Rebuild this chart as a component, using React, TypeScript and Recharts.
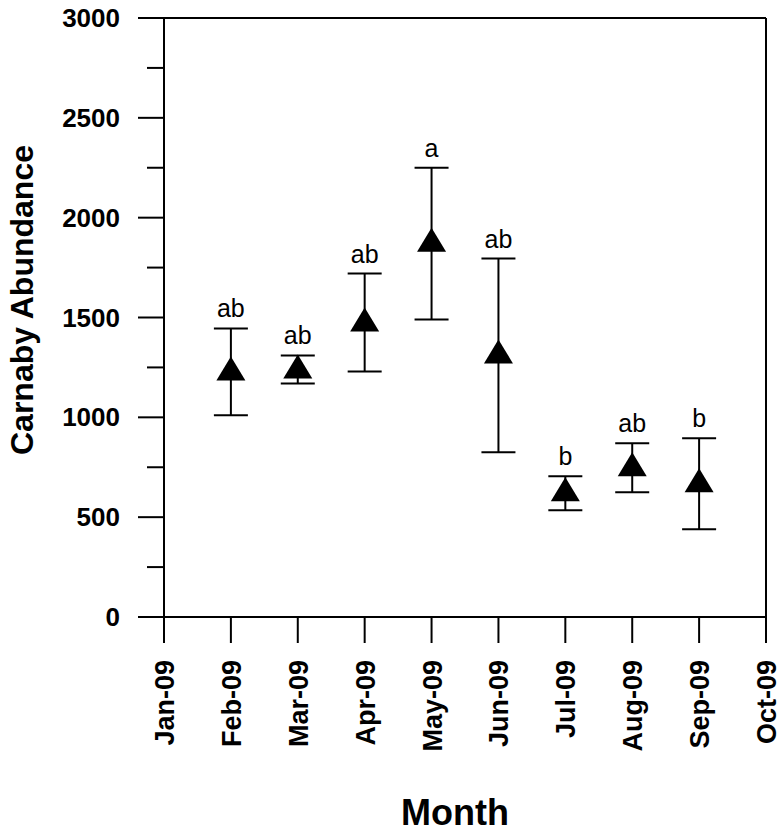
// Carnaby abundance by month: mean (triangle) with error bars and
// significance letters above each bar.
import {
  ComposedChart,
  ErrorBar,
  ReferenceLine,
  Scatter,
  XAxis,
  YAxis,
} from "recharts";

const months = ["Jan-09", "Feb-09", "Mar-09", "Apr-09", "May-09", "Jun-09", "Jul-09", "Aug-09", "Sep-09", "Oct-09"];
const sampledMonth = [1, 2, 3, 4, 5, 6, 7, 8];
const means = [1245, 1255, 1490, 1890, 1330, 640, 765, 685];
const lower = [1010, 1170, 1230, 1490, 825, 535, 625, 440];
const upper = [1445, 1310, 1720, 2250, 1795, 705, 870, 895];
const letters = ["ab", "ab", "ab", "a", "ab", "b", "ab", "b"];
const yTicks = [0, 250, 500, 750, 1000, 1250, 1500, 1750, 2000, 2250, 2500, 2750, 3000];
const xTicks = [0, 1, 2, 3, 4, 5, 6, 7, 8, 9];

const FONT = "'Liberation Sans', Arial, sans-serif";

const data = sampledMonth.map((m, i) => ({
  x: m,
  mean: means[i],
  hi: upper[i],
  err: [means[i] - lower[i], upper[i] - means[i]],
  letter: letters[i],
}));

function YTick({ x, y, payload }: any) {
  const major = payload.value % 500 === 0;
  return (
    <g>
      <line x1={x - (major ? 26 : 17)} x2={x} y1={y} y2={y} stroke="#000" strokeWidth={2} />
      {major && (
        <text x={x - 44} y={y + 9} textAnchor="end" fontFamily={FONT} fontWeight="bold" fontSize={26} fill="#000">
          {payload.value}
        </text>
      )}
    </g>
  );
}

function XTick({ x, y, payload }: any) {
  return (
    <g>
      <line x1={x} x2={x} y1={y} y2={y + 26} stroke="#000" strokeWidth={2} />
      <text
        x={x + 10}
        y={660}
        transform={`rotate(-90, ${x + 10}, 660)`}
        textAnchor="end"
        fontFamily={FONT}
        fontWeight="bold"
        fontSize={27}
        fill="#000"
      >
        {months[payload.value]}
      </text>
    </g>
  );
}

function Triangle({ cx, cy }: any) {
  return <polygon points={`${cx},${cy - 12} ${cx - 14.5},${cy + 12} ${cx + 14.5},${cy + 12}`} fill="#000" />;
}

function Letter({ cx, cy, payload }: any) {
  return (
    <text x={cx} y={cy - 11} textAnchor="middle" fontFamily={FONT} fontSize={25} fill="#000">
      {payload.letter}
    </text>
  );
}

export default function App() {
  return (
    <div style={{ position: "absolute", left: 0, top: 0, background: "#fff" }}>
      <ComposedChart width={781} height={832} data={data} margin={{ top: 18, right: 15, bottom: 0, left: 0 }}>
        <XAxis
          dataKey="x"
          type="number"
          domain={[0, 9]}
          ticks={xTicks}
          interval={0}
          height={215}
          tickSize={0}
          tickMargin={0}
          tick={<XTick />}
          axisLine={{ stroke: "#000", strokeWidth: 2 }}
          label={{
            content: ({ viewBox }: any) => (
              <text
                x={viewBox.x + viewBox.width / 2 - 10}
                y={825}
                textAnchor="middle"
                fontFamily={FONT}
                fontWeight="bold"
                fontSize={36}
                fill="#000"
              >
                Month
              </text>
            ),
          }}
        />
        <YAxis
          type="number"
          domain={[0, 3000]}
          ticks={yTicks}
          interval={0}
          width={164}
          tickSize={0}
          tickMargin={0}
          tick={<YTick />}
          axisLine={{ stroke: "#000", strokeWidth: 2 }}
          label={{
            content: () => (
              <text
                x={33}
                y={300}
                transform="rotate(-90, 33, 300)"
                textAnchor="middle"
                fontFamily={FONT}
                fontWeight="bold"
                fontSize={32}
                fill="#000"
              >
                Carnaby Abundance
              </text>
            ),
          }}
        />
        <ReferenceLine y={3000} stroke="#000" strokeWidth={2} />
        <ReferenceLine x={9} stroke="#000" strokeWidth={2} />
        <Scatter dataKey="mean" shape={<Triangle />} isAnimationActive={false}>
          <ErrorBar dataKey="err" direction="y" width={17} stroke="#000" strokeWidth={2} isAnimationActive={false} />
        </Scatter>
        <Scatter dataKey="hi" shape={<Letter />} isAnimationActive={false} />
      </ComposedChart>
    </div>
  );
}
